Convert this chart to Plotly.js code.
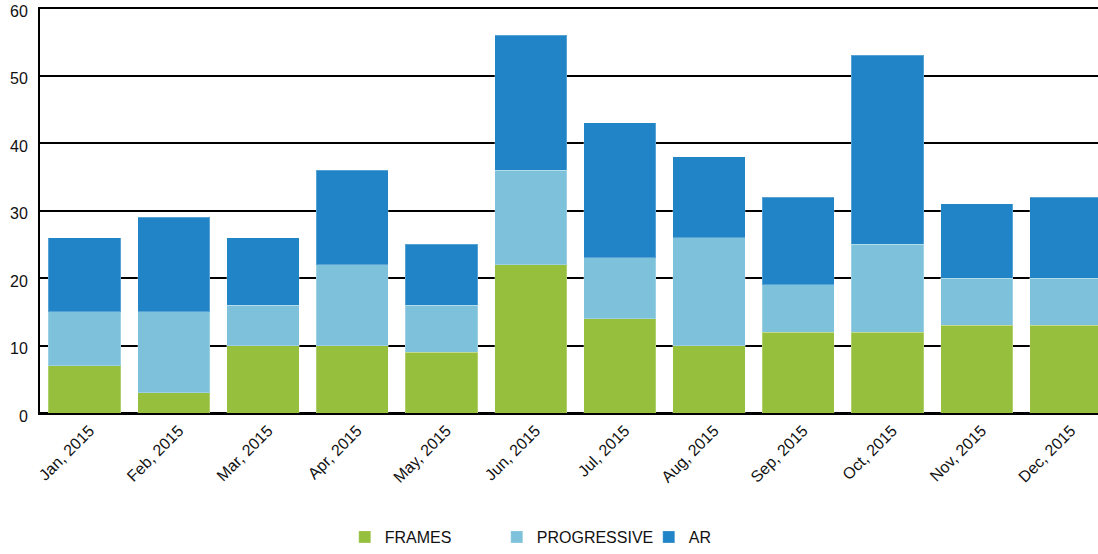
<!DOCTYPE html>
<html>
<head>
<meta charset="utf-8">
<script src="https://cdn.plot.ly/plotly-3.0.1.min.js"></script>
<style>html,body{margin:0;padding:0;background:#fff;}#chart{width:1098px;height:554px;}</style>
</head>
<body>
<div id="chart"></div>
<script>
var months = ["Jan, 2015","Feb, 2015","Mar, 2015","Apr, 2015","May, 2015","Jun, 2015","Jul, 2015","Aug, 2015","Sep, 2015","Oct, 2015","Nov, 2015","Dec, 2015"];
var frames = [7, 3, 10, 10, 9, 22, 14, 10, 12, 12, 13, 13];
var progressive = [8, 12, 6, 12, 7, 14, 9, 16, 7, 13, 7, 7];
var ar = [11, 14, 10, 14, 9, 20, 20, 12, 13, 28, 11, 12];
var yTicks = [0, 10, 20, 30, 40, 50, 60];

function tr(name, vals, color) {
  return {type: 'bar', name: name, x: months, y: vals,
    marker: {color: color, line: {color: 'rgba(255,255,255,0.25)', width: 1}},
    hoverinfo: 'skip'};
}
var data = [
  tr('FRAMES', frames, '#95bf3d'),
  tr('PROGRESSIVE', progressive, '#7dc1da'),
  tr('AR', ar, '#2084c6')
];
var layout = {
  width: 1098, height: 554,
  margin: {l: 40, r: 0, t: 7, b: 141},
  barmode: 'stack', bargap: 0.19,
  paper_bgcolor: '#fff', plot_bgcolor: '#fff',
  font: {family: 'Liberation Sans, Arial, sans-serif', size: 16, color: '#111'},
  xaxis: {type: 'category', range: [-0.5, 11.36], tickangle: -45,
    showline: true, linecolor: '#000', linewidth: 2, showgrid: false,
    ticks: '', ticklabelshift: 5, tickfont: {size: 16, color: '#111'}, fixedrange: true},
  yaxis: {range: [0, 60.15], tickvals: yTicks, ticktext: yTicks.map(String),
    showgrid: true, gridcolor: '#000', gridwidth: 2,
    zeroline: true, zerolinecolor: '#000', zerolinewidth: 2,
    showline: true, linecolor: '#000', linewidth: 2,
    ticks: '', ticklen: 0, ticklabelstandoff: 7, ticklabelshift: 3,
    ticklabeloverflow: 'allow', tickfont: {size: 16, color: '#111'}, fixedrange: true},
  showlegend: true,
  legend: {orientation: 'h', xref: 'container', yref: 'container',
    x: 0.314, xanchor: 'left', y: -0.014, yanchor: 'bottom',
    entrywidth: 107, entrywidthmode: 'pixels', traceorder: 'normal',
    font: {size: 16, color: '#111'}, bgcolor: 'rgba(0,0,0,0)'}
};
Plotly.newPlot('chart', data, layout, {displayModeBar: false, staticPlot: true});
</script>
</body>
</html>
